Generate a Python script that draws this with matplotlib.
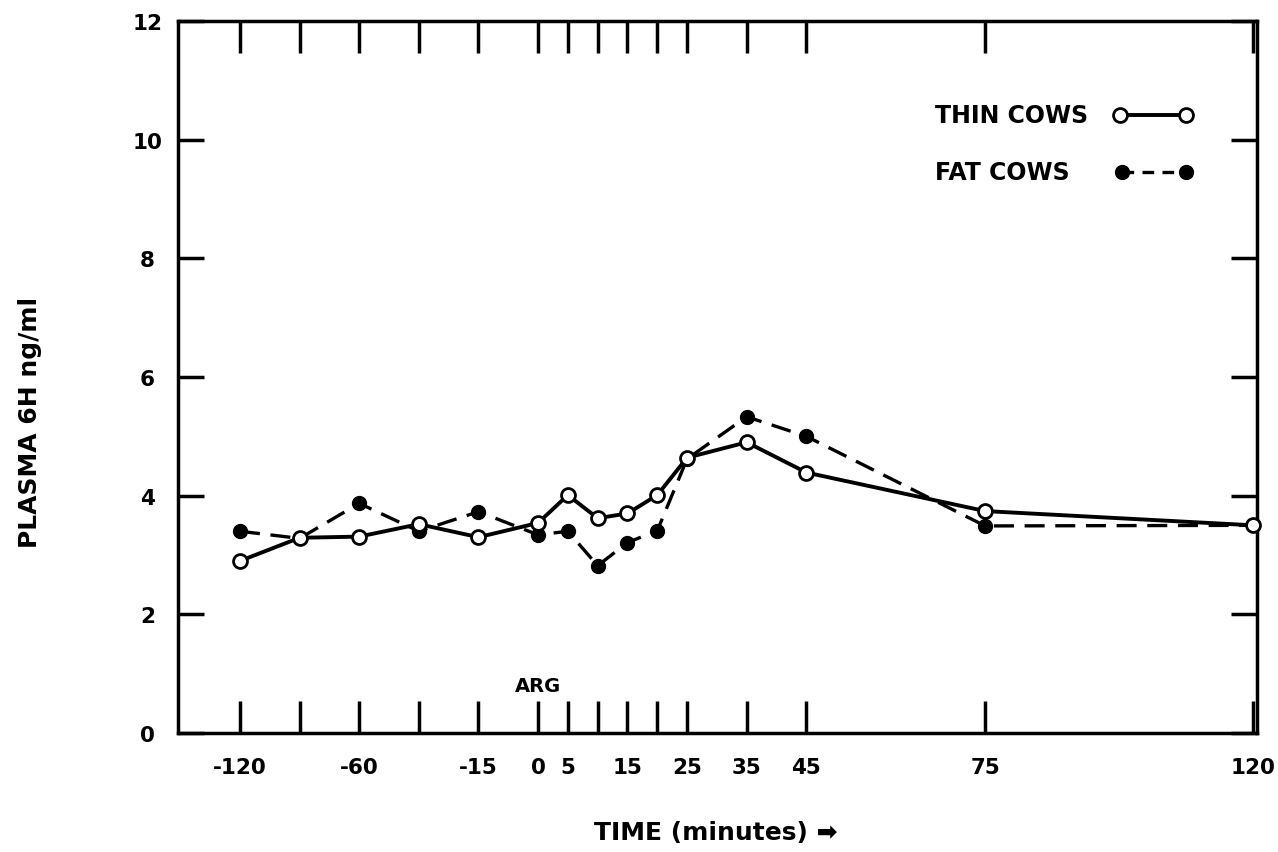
import numpy as np
import matplotlib
matplotlib.use("Agg")
from matplotlib import pyplot as plt

# sampling times (minutes relative to ARG injection)
times = [-120, -90, -60, -30, -15, 0, 5, 10, 15, 20, 25, 35, 45, 75, 120]
thin_cows = [2.90, 3.29, 3.31, 3.52, 3.30, 3.54, 4.01, 3.62, 3.70, 4.01, 4.64, 4.90, 4.39, 3.74, 3.50]
fat_cows = [3.40, 3.28, 3.87, 3.40, 3.73, 3.34, 3.40, 2.82, 3.21, 3.41, 4.62, 5.33, 5.00, 3.49, 3.50]

tick_times = times
tick_labels = ["-120", "", "-60", "", "-15", "0", "5", "", "15", "", "25", "35", "45", "75", "120"]

# the time axis is stretched piecewise: 2 px/min before -30, 4 px/min to 0, 6 px/min after
scale_t = [-180, -120, -30, 0, 120, 180]
scale_u = [-2, 0, 3, 5, 17, 23]


def forward(t):
    return np.interp(t, scale_t, scale_u)


def inverse(u):
    return np.interp(u, scale_u, scale_t)


plt.rcParams['font.family'] = ['DejaVu Sans']
plt.rcParams['font.weight'] = 'bold'

fig = plt.figure(figsize=(12.78, 8.53), dpi=100)
ax = fig.add_axes([178 / 1278, 1 - 734 / 853, (1257 - 178) / 1278, (734 - 22) / 853])

ax.set_xscale('function', functions=(forward, inverse))
ax.set_xlim(-151.2, 120.6)
ax.set_ylim(0, 12)

ax.plot(times, fat_cows, color='black', lw=2.4, dashes=(6, 3.2),
        marker='o', ms=10, mfc='black', mec='black', clip_on=False, zorder=3)
ax.plot(times, thin_cows, color='black', lw=2.8, ls='-',
        marker='o', ms=10, mfc='white', mec='black', mew=2, clip_on=False, zorder=4)

ax.set_xticks(tick_times)
ax.set_xticklabels(tick_labels)
ax.set_yticks(range(0, 13, 2))
ax.xaxis.set_minor_locator(plt.NullLocator())

ax.tick_params(axis='x', which='major', direction='in', length=23, width=2.5,
               top=True, bottom=True, labelsize=15.5, pad=17)
ax.tick_params(axis='y', which='major', direction='in', length=19, width=2.5,
               left=True, right=True, labelsize=15.5, pad=22)
for lab in ax.get_yticklabels():
    lab.set_horizontalalignment('center')

for side in ax.spines.values():
    side.set_linewidth(2.5)

# legend drawn by hand: label on the left, line sample on the right
ax.text(0.7016, 0.868, "THIN COWS", transform=ax.transAxes, fontsize=17,
        ha='left', va='center')
ax.plot([0.873, 0.934], [0.868, 0.868], transform=ax.transAxes, color='black',
        lw=2.8, marker='o', ms=10, mfc='white', mec='black', mew=2, clip_on=False)
ax.text(0.7016, 0.788, "FAT COWS", transform=ax.transAxes, fontsize=17,
        ha='left', va='center')
ax.plot([0.875, 0.934], [0.788, 0.788], transform=ax.transAxes, color='black',
        lw=2.4, dashes=(3.5, 2.5), marker='o', ms=10, mfc='black', mec='black',
        clip_on=False)

ax.text(0, 0.8, "ARG", fontsize=14, ha='center', va='center')

fig.text(716 / 1278, 1 - 833 / 853, "TIME (minutes) \u27a1", fontsize=18,
         ha='center', va='center')
fig.text(30 / 1278, 1 - 422 / 853, "PLASMA 6H ng/ml", fontsize=18,
         rotation=90, ha='center', va='center')

fig.savefig('out.png', dpi=100)
